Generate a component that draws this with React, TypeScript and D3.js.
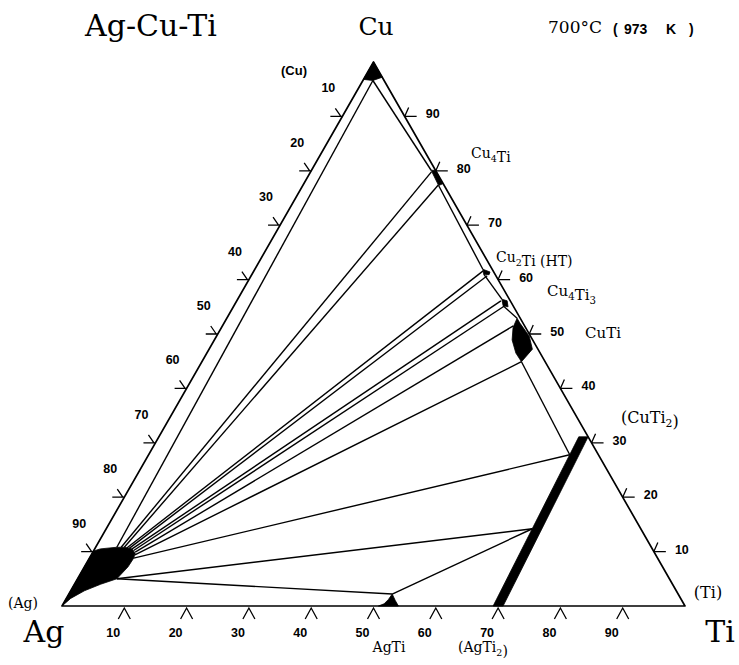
import React from "react";
import * as d3 from "d3";

const width = 739;
const height = 665;

// compositions are [Cu, Ti] in at.%, Ag is the rest
const corners = [
  [0, 0],
  [100, 0],
  [0, 100],
];
const ticks = [10, 20, 30, 40, 50, 60, 70, 80, 90];

// single phase fields (black)
const agPhase = [
  [0, 0], [10.1, 0], [10.5, 0.9], [10.8, 3.4], [10.8, 4.7], [10.5, 6.0],
  [9.7, 6.9], [8.8, 7.1], [7.2, 7.0], [5.0, 6.3], [4.0, 4.2], [2.8, 2.2], [1.4, 0.7],
];
const cuPhase = [[100, 0], [96.8, 0], [96.6, 1.6], [97.2, 2.8]];
const cu4TiPhase = [[80.1, 19.2], [80.1, 19.9], [77.6, 22.3], [77.3, 21.8]];
const cu2TiPhase = [[61.9, 36.6], [61.4, 38.0], [60.9, 38.1], [61.0, 37.2]];
const cu4Ti3Phase = [[56.4, 42.4], [56.1, 43.4], [55.0, 44.1], [55.2, 43.2]];
const cuTiPhase = [
  [52.9, 46.6], [52.0, 47.5], [49.6, 50.2], [47.2, 51.9], [44.9, 51.3],
  [46.5, 49.6], [48.9, 47.8], [51.2, 46.8],
];
const cuTi2Phase = [[0, 69.2], [31.1, 67.4], [31.1, 68.9], [0, 70.8]];
const agTiPhase = [[0, 50.8], [0.4, 51.5], [1.2, 51.8], [2.2, 51.9], [1.0, 53.0], [0, 54.0]];

// tie lines and phase boundaries
const tieLines = [
  [[96.6, 1.6], [10.8, 3.4]],
  [[96.6, 1.6], [80.1, 19.2]],
  [[77.3, 21.8], [61.9, 36.6]],
  [[61.0, 37.2], [56.4, 42.4]],
  [[55.2, 43.2], [52.9, 46.6]],
  [[44.9, 51.3], [27.8, 67.6]],
  [[10.8, 4.1], [79.8, 19.4]],
  [[10.8, 4.6], [77.4, 21.7]],
  [[10.7, 5.1], [61.6, 36.8]],
  [[10.6, 5.5], [60.7, 37.9]],
  [[10.5, 6.0], [56.1, 42.4]],
  [[10.2, 6.4], [55.1, 43.4]],
  [[9.9, 6.8], [51.5, 46.7]],
  [[9.4, 7.0], [44.9, 51.3]],
  [[8.8, 7.1], [27.8, 67.6]],
  [[5.0, 6.3], [14.2, 68.4]],
  [[5.0, 6.3], [2.2, 51.9]],
  [[2.2, 51.9], [14.2, 68.4]],
];

const x = d3.scaleLinear().domain([0, 100]).range([62, 685]);
const y = d3.scaleLinear().domain([0, 100]).range([606, 62]);
const px = (d: number[]): [number, number] => [x(d[1] + d[0] / 2), y(d[0])];

const area = d3.line<number[]>().x((d) => px(d)[0]).y((d) => px(d)[1]).curve(d3.curveLinearClosed);
const seg = d3.line<number[]>().x((d) => px(d)[0]).y((d) => px(d)[1]);

const serif = "'DejaVu Serif', serif";
const sans = "'Liberation Sans', Arial, sans-serif";

const Sub = ({ v }: { v: string }) => (
  <>
    <tspan fontSize="0.68em" dy={4}>{v}</tspan>
    <tspan dy={-4}></tspan>
  </>
);

export default function App() {
  const phases = [agPhase, cuPhase, cu4TiPhase, cu2TiPhase, cu4Ti3Phase, cuTiPhase, cuTi2Phase, agTiPhase];
  return (
    <svg
      width={width}
      height={height}
      style={{ position: "absolute", left: 0, top: 0, background: "#fff" }}
    >
      <path d={area(corners) || ""} fill="none" stroke="#000" strokeWidth={1.7} strokeLinejoin="round" />
      {tieLines.map((l, i) => (
        <path key={i} d={seg(l) || ""} fill="none" stroke="#000" strokeWidth={1.4} />
      ))}
      {phases.map((p, i) => (
        <path key={i} d={area(p) || ""} fill="#000" stroke="#000" strokeWidth={0.8} strokeLinejoin="round" />
      ))}

      {/* Ag-Cu side: Ag content */}
      {ticks.map((v) => {
        const [tx, ty] = px([100 - v, 0]);
        return (
          <g key={"l" + v}>
            <path d={`M${tx - 12},${ty}H${tx}M${tx - 7},${ty - 8}L${tx - 1.5},${ty}`} stroke="#000" strokeWidth={1.3} fill="none" />
            <text x={tx - 14} y={ty - 28} textAnchor="middle" dominantBaseline="central" fontFamily={sans} fontWeight="bold" fontSize={12.5}>
              {v}
            </text>
          </g>
        );
      })}
      {/* Cu-Ti side: Cu content */}
      {ticks.map((v) => {
        const [tx, ty] = px([v, 100 - v]);
        return (
          <g key={"r" + v}>
            <path d={`M${tx},${ty}H${tx + 12}M${tx + 4},${ty - 9}L${tx},${ty}`} stroke="#000" strokeWidth={1.3} fill="none" />
            <text x={tx + 28} y={ty - 2} textAnchor="middle" dominantBaseline="central" fontFamily={sans} fontWeight="bold" fontSize={12.5}>
              {v}
            </text>
          </g>
        );
      })}
      {/* Ag-Ti side: Ti content */}
      {ticks.map((v) => {
        const [tx, ty] = px([0, v]);
        return (
          <g key={"b" + v}>
            <path d={`M${tx - 6},${ty + 13}L${tx},${ty + 2}L${tx + 6},${ty + 13}`} stroke="#000" strokeWidth={1.3} fill="none" />
            <text x={tx - 11} y={ty + 27} textAnchor="middle" dominantBaseline="central" fontFamily={sans} fontWeight="bold" fontSize={12.5}>
              {v}
            </text>
          </g>
        );
      })}

      <text x={151} y={36} textAnchor="middle" fontFamily={serif} fontSize={30}>Ag-Cu-Ti</text>
      <text x={376} y={35} textAnchor="middle" fontFamily={serif} fontSize={25}>Cu</text>
      <text x={548} y={33} fontFamily={serif} fontSize={17}>700°C</text>
      <g fontFamily={sans} fontWeight="bold" fontSize={14}>
        <text x={613} y={34}>(</text>
        <text x={624} y={34}>973</text>
        <text x={666} y={34}>K</text>
        <text x={689} y={34}>)</text>
      </g>
      <text x={44} y={642} textAnchor="middle" fontFamily={serif} fontSize={30}>Ag</text>
      <text x={720} y={642} textAnchor="middle" fontFamily={serif} fontSize={30}>Ti</text>

      <text x={294} y={75} textAnchor="middle" fontFamily={sans} fontWeight="bold" fontSize={13}>(Cu)</text>
      <text x={23} y={608} textAnchor="middle" fontFamily={serif} fontSize={14}>(Ag)</text>
      <text x={708} y={598} textAnchor="middle" fontFamily={serif} fontSize={16}>(Ti)</text>
      <text x={471} y={158} fontFamily={serif} fontSize={14}>Cu<Sub v="4" />Ti</text>
      <text x={496} y={262} fontFamily={serif} fontSize={14}>Cu<Sub v="2" />Ti (HT)</text>
      <text x={547} y={296} fontFamily={serif} fontSize={15}>Cu<Sub v="4" />Ti<Sub v="3" /></text>
      <text x={585} y={338} fontFamily={serif} fontSize={15}>CuTi</text>
      <text x={621} y={423} fontFamily={serif} fontSize={16}>(CuTi<Sub v="2" />)</text>
      <text x={389} y={652} textAnchor="middle" fontFamily={serif} fontSize={14}>AgTi</text>
      <text x={458} y={652} fontFamily={serif} fontSize={14}>(AgTi<Sub v="2" />)</text>
    </svg>
  );
}
